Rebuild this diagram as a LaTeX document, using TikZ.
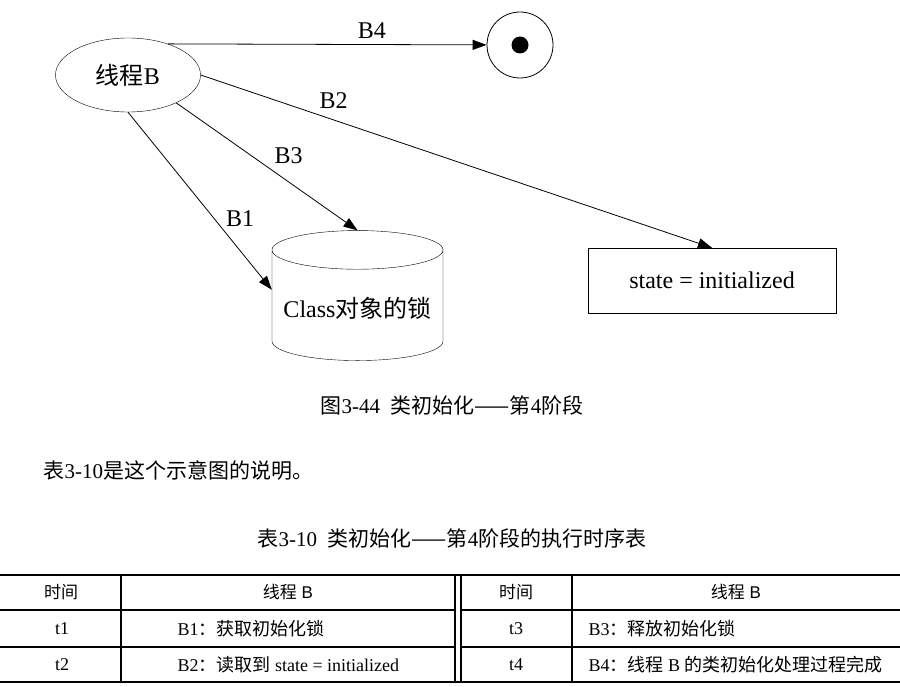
\documentclass[tikz,border=0pt]{standalone}
\usepackage{fontspec}
\setmainfont{Liberation Serif}
\setsansfont{Liberation Sans}
\newfontfamily\cjk{Noto Sans CJK SC}
\usetikzlibrary{arrows.meta,positioning,shapes.geometric}

\begin{document}
\begin{tikzpicture}[
    x=1pt, y=-1pt,
    big/.style={font=\fontsize{24}{28}\selectfont},
    capt/.style={font=\fontsize{21}{25}\selectfont},
    cell/.style={font=\fontsize{18}{22}\selectfont},
    head/.style={font=\sffamily\fontsize{17}{21}\selectfont},
    thread/.style={ellipse,draw,big,minimum width=145pt,minimum height=74pt,inner sep=0pt},
    store/.style={cylinder,shape border rotate=90,draw,big,aspect=0.25,minimum width=171pt,minimum height=130pt},
    statebox/.style={rectangle,draw,big,minimum width=248pt,minimum height=65pt},
    arrow/.style={-{Triangle[length=14pt,width=10pt]},line width=0.8pt},
    rulethick/.style={line width=2.6pt},
    rulethin/.style={line width=1.1pt}
]
\useasboundingbox (0,0) rectangle (900,687);
\node[thread] (thread) at (128,75) {{\cjk 线程}B};
\node[circle,draw,minimum size=66pt,line width=0.8pt] (final) at (520,45) {};
\node[circle,fill,minimum size=17pt,inner sep=0pt] (dot) at (final.center) {};
\node[store] (lock) at (357.5,308) {Class{\cjk 对象的锁}};
\node[statebox] (state) at (712,280.5) {state = initialized};
\draw[arrow] (thread.38) -- node[big,pos=.64,above=2pt] {B4} (final);
\draw[arrow] (thread.east) -- node[big,pos=.26,above=8pt] {B2} (state.north);
\draw[arrow] (thread.-30) -- node[big,pos=.62,above=14pt] {B3} (lock.north);
\draw[arrow] (thread.south) -- node[big,pos=.6,right=8pt] {B1} (lock.168);
\node[capt] (fig) at (452,405) {{\cjk 图}3-44\ \ {\cjk 类初始化——第}4{\cjk 阶段}};
\node[capt,anchor=west] (para) at (40,470) {{\cjk 表}3-10{\cjk 是这个示意图的说明。}};
\node[capt] (tab) at (452,538) {{\cjk 表}3-10\ \ {\cjk 类初始化——第}4{\cjk 阶段的执行时序表}};
\draw[rulethick] (0,575) -- (900,575);
\draw[rulethick] (0,682) -- (900,682);
\draw[rulethin] (0,610) -- (455,610) (461,610) -- (900,610);
\draw[rulethin] (0,647) -- (455,647) (461,647) -- (900,647);
\draw[rulethin] (121,575) -- (121,682) (455,575) -- (455,682) (461,575) -- (461,682) (572,575) -- (572,682);
\node[head] (t-left) at (61,592) {\cjk 时间};
\node[head] (b-left) at (288,592) {{\cjk 线程} B};
\node[head] (t-right) at (516,592) {\cjk 时间};
\node[head] (b-right) at (736,592) {{\cjk 线程} B};
\node[cell] (t1) at (62,629) {t1};
\node[cell,anchor=west] (b1) at (174,629) {B1{\cjk ：获取初始化锁}};
\node[cell] (t2) at (62,665) {t2};
\node[cell,anchor=west] (b2) at (174,665) {B2{\cjk ：读取到} state = initialized};
\node[cell] (t3) at (516,629) {t3};
\node[cell,anchor=west] (b3) at (585,629) {B3{\cjk ：释放初始化锁}};
\node[cell] (t4) at (516,665) {t4};
\node[cell,anchor=west] (b4) at (585,665) {B4{\cjk ：线程} B {\cjk 的类初始化处理过程完成}};
\end{tikzpicture}
\end{document}
